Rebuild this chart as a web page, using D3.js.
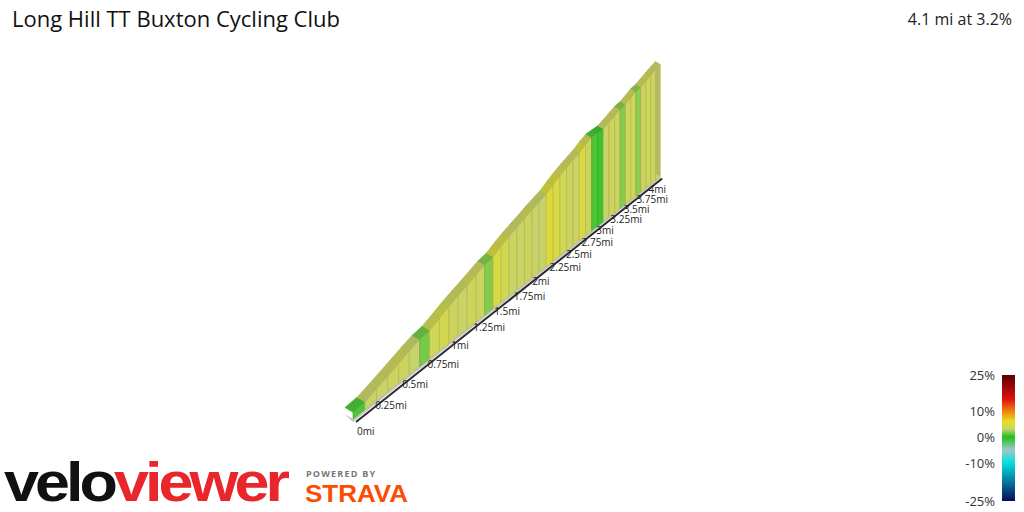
<!DOCTYPE html><html><head><meta charset="utf-8">
<script src="https://cdn.jsdelivr.net/npm/d3@7"></script>
<style>body{margin:0;background:#fff}svg{font-family:"Open Sans",sans-serif}</style></head><body>
<svg id="c" width="1024" height="512"></svg>
<script>
const segLen = 0.1; // miles per segment
const grades = [0.8,3,3.2,3.4,3.5,3,1.5,3.8,4,3.5,3.2,3.6,3.4,1.8,4.5,4,3.3,3.2,3.5,3.1,3,4.8,4.5,3.8,3.4,3.3,4.6,3.5,0.8,0.5,3.2,3.5,3.4,1.8,3.6,3.8,2.0,3.5,3.6,3.4,3.3];
const startElev = 180;
const distTicks = [0,0.25,0.5,0.75,1,1.25,1.5,1.75,2,2.25,2.5,2.75,3,3.25,3.5,3.75,4];
const cbTicks = [25,10,0,-10,-25];
const colorStops = [-25,-10,-5,0,3,6,10,15,25];
const colorVals = ["#0a0a5a","#00e0e0","#a0c8c8","#20c020","#c8d26a","#e6e020","#f08010","#e01010","#5a0000"];

const svg = d3.select("#c");
const color = d3.scaleLinear().domain(colorStops).range(colorVals);
const k = 0.15;
const persp = d => d/(1+k*d);
const bx = d3.scaleLinear().domain([0,1]).range([353,474]);
const by = d3.scaleLinear().domain([0,1]).range([419,323.5]);

const elev=[startElev];
grades.forEach(g=>elev.push(elev[elev.length-1]+g/100*segLen*1609.34));
const total = grades.length*segLen;
const fac = d => (1+k*total)/(1+k*d);
const hScale = d3.scaleLinear().domain([172, d3.max(elev)]).range([0,112]);
const B = d => [bx(persp(d)), by(persp(d))];
const P = (d,e)=>{const b=B(d);return [b[0], b[1]-hScale(e)*fac(d)];};
const D = (p,d)=>[p[0]-5*fac(d), p[1]-3*fac(d)];

const g = svg.append("g");
// base slab
{const b0=B(0), b1=B(total);
g.append("path").attr("d", d3.line()([D(b0,0),[b0[0],b0[1]+3],[b1[0],b1[1]+2],b1,b0])+"Z").attr("fill","#c4c4c4");}
// axis line + ticks
{const b0=B(0), b1=B(total);
g.append("path").attr("d", d3.line()([[b0[0]+3,b0[1]+3],[b1[0]+2,b1[1]+2]])).attr("stroke","#2a2a2a").attr("stroke-width",2);}
// top faces
grades.forEach((gr,i)=>{
  const d0=i*segLen,d1=(i+1)*segLen;
  const a=P(d0,elev[i]), b=P(d1,elev[i+1]);
  g.append("path").attr("d",d3.line()([a,b,D(b,d1),D(a,d0)])+"Z")
   .attr("fill",d3.color(color(gr)).darker(0.35)).attr("stroke",d3.color(color(gr)).darker(0.6)).attr("stroke-width",0.5);
});
// front faces
grades.forEach((gr,i)=>{
  const d0=i*segLen,d1=(i+1)*segLen;
  const a=P(d0,elev[i]), b=P(d1,elev[i+1]);
  g.append("path").attr("d",d3.line()([B(d0),a,b,B(d1)])+"Z")
   .attr("fill",color(gr)).attr("stroke",d3.color(color(gr)).darker(0.5)).attr("stroke-width",0.6);
});
// end cap
{const e=P(total,elev[elev.length-1]);const b0=B(total);
 g.append("path").attr("d",d3.line()([b0,e,D(e,total),D(b0,total)])+"Z").attr("fill","#b5bb60");}
// distance labels
svg.append("g").selectAll("text").data(distTicks).join("text")
 .attr("x",d=>B(d)[0]+(d===0?4:-7)).attr("y",d=>B(d)[1]+(d===0?16:13))
 .attr("font-size",10).attr("fill","#222").text(d=>d+"mi");

svg.append("text").attr("x",12).attr("y",27).attr("font-size",22).attr("fill","#111").text("Long Hill TT Buxton Cycling Club");
svg.append("text").attr("x",1012).attr("y",25).attr("text-anchor","end").attr("font-size",16).attr("fill","#222").text("4.1 mi at 3.2%");

// colorbar
const cy = d3.scaleLinear().domain([-25,-10,0,10,25]).range([501,463,437,411,375]);
const grad = svg.append("defs").append("linearGradient").attr("id","cb").attr("x1",0).attr("x2",0).attr("y1",1).attr("y2",0);
d3.range(-25,25.5,1).forEach(v=>grad.append("stop").attr("offset",(cy(-25)-cy(v))/(cy(-25)-cy(25))).attr("stop-color",color(v)));
svg.append("rect").attr("x",1002).attr("y",cy(25)).attr("width",13).attr("height",cy(-25)-cy(25)).attr("fill","url(#cb)");
svg.append("g").selectAll("text").data(cbTicks).join("text").attr("x",995).attr("y",d=>cy(d)+5).attr("text-anchor","end")
 .attr("font-size",13).attr("fill","#333").text(d=>d+"%");

// logos
const lg = svg.append("text").attr("x",4).attr("y",501).attr("font-family","Liberation Sans, Arial").attr("font-weight","bold").attr("font-size",56).attr("letter-spacing",-3.5).attr("textLength",282).attr("lengthAdjust","spacingAndGlyphs");
lg.append("tspan").attr("fill","#111").text("velo");
lg.append("tspan").attr("fill","#e8262b").text("viewer");
svg.append("text").attr("x",306).attr("y",477).attr("font-size",9).attr("font-weight","bold").attr("letter-spacing",1.2).attr("fill","#777").text("POWERED BY");
svg.append("text").attr("x",305).attr("y",502).attr("font-family","Liberation Sans, Arial").attr("font-size",23).attr("font-weight","bold").attr("fill","#fc4c02").attr("textLength",103).attr("lengthAdjust","spacingAndGlyphs").text("STRAVA");
</script></body></html>
